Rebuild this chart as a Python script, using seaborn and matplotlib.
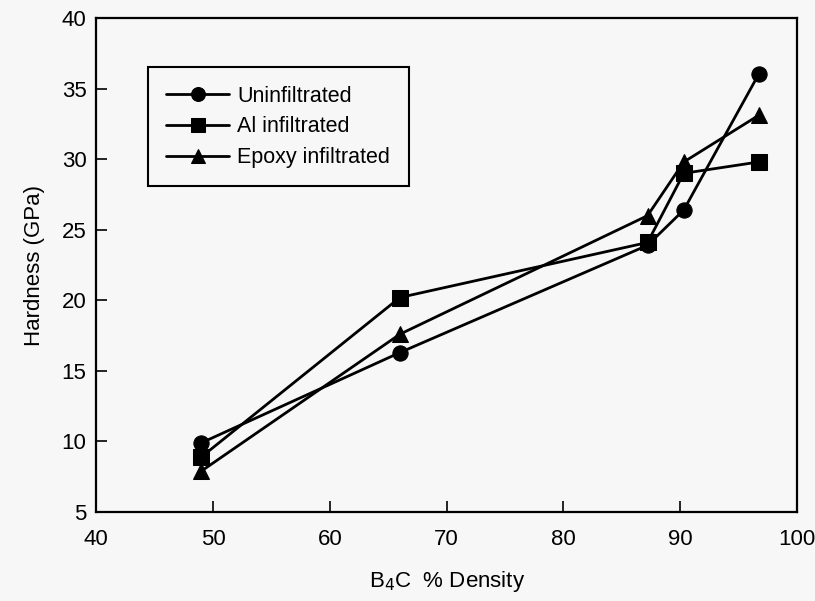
import matplotlib
matplotlib.use("Agg")
import matplotlib.pyplot as plt
import seaborn as sns
import pandas as pd

density = [49.0, 66.0, 87.2, 90.3, 96.7]
uninfiltrated = [9.9, 16.3, 23.9, 26.4, 36.0]
al_infiltrated = [8.9, 20.2, 24.1, 29.0, 29.8]
epoxy_infiltrated = [7.9, 17.6, 26.0, 29.8, 33.1]
series_names = ["Uninfiltrated", "Al infiltrated", "Epoxy infiltrated"]
x_ticks = [40, 50, 60, 70, 80, 90, 100]
y_ticks = [5, 10, 15, 20, 25, 30, 35, 40]

rows = []
for name, vals in zip(series_names, [uninfiltrated, al_infiltrated, epoxy_infiltrated]):
    for x, y in zip(density, vals):
        rows.append({"density": x, "hardness": y, "series": name})
df = pd.DataFrame(rows)

sns.set_theme(style="ticks")
plt.rcParams['font.family'] = ['Liberation Sans', 'DejaVu Sans']
plt.rcParams['text.color'] = 'black'
plt.rcParams['axes.labelcolor'] = 'black'
bg = "#f7f7f7"
fig = plt.figure(figsize=(8.15, 6.01), dpi=100, facecolor=bg)
ax = fig.add_axes([0.118, 0.148, 0.860, 0.822])
ax.set_facecolor(bg)

sns.lineplot(data=df, x="density", y="hardness", hue="series", style="series",
             hue_order=series_names, style_order=series_names,
             palette=["black"] * 3, markers={"Uninfiltrated": "o", "Al infiltrated": "s", "Epoxy infiltrated": "^"},
             dashes=False, linewidth=2.0, markersize=11, markeredgecolor="black",
             ax=ax, sort=False)

ax.set_xlim(40, 100)
ax.set_ylim(5, 40)
ax.set_xticks(x_ticks)
ax.set_yticks(y_ticks)
ax.tick_params(direction="in", length=8, width=1.2, labelsize=16, colors="black",
               top=False, right=False)
ax.tick_params(axis="x", pad=12)
ax.tick_params(axis="y", pad=7)
for s in ax.spines.values():
    s.set_linewidth(1.6)
    s.set_color("black")
ax.set_xlabel("B$_4$C  % Density", fontsize=16, labelpad=14)
ax.set_ylabel("Hardness (GPa)", fontsize=16, labelpad=12)

leg = ax.legend(loc="upper left", bbox_to_anchor=(0.074, 0.9), fontsize=15.5,
                frameon=True, fancybox=False, edgecolor="black", framealpha=1,
                facecolor=bg, handlelength=2.9, borderpad=0.85, labelspacing=0.45,
                handletextpad=0.4, borderaxespad=0)
leg.get_frame().set_linewidth(1.5)
for h in leg.legend_handles:
    h.set_markersize(10)

fig.savefig("out.png", dpi=100, facecolor=bg)
